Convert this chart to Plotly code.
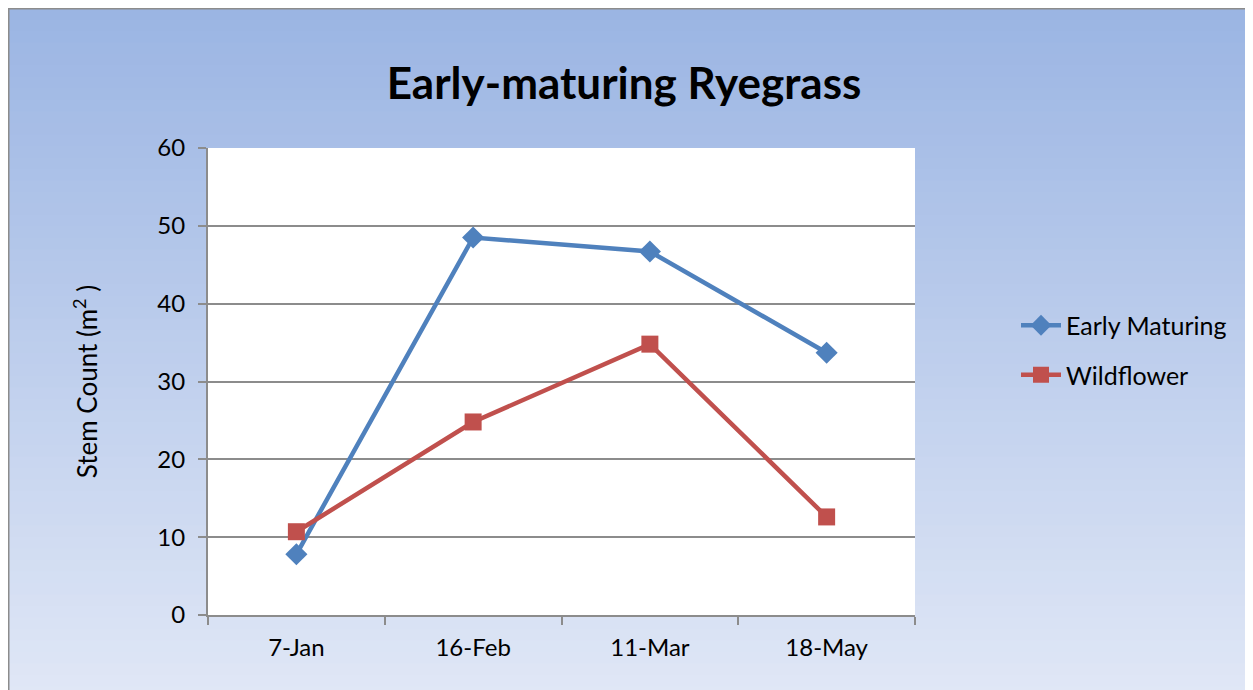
import plotly.graph_objects as go

categories = ["7-Jan", "16-Feb", "11-Mar", "18-May"]
early_maturing = [7.8, 48.5, 46.7, 33.7]
wildflower = [10.7, 24.8, 34.8, 12.6]
y_ticks = [0, 10, 20, 30, 40, 50, 60]

W, H = 1253, 690
L, R, T, B = 200, 346, 140, 83
PW, PH = W - L - R, H - T - B

def px_x(p):
    return (p - L) / PW

def px_y(p):
    return (H - B - p) / PH

FONT = "Lato"

fig = go.Figure()
fig.add_trace(go.Scatter(
    x=categories, y=early_maturing, name="Early Maturing", mode="lines+markers",
    legendgroup="a",
    line=dict(color="#4F81BD", width=4.5),
    marker=dict(symbol="diamond", size=17, color="#4F81BD"),
))
fig.add_trace(go.Scatter(
    x=categories, y=wildflower, name="Wildflower", mode="lines+markers",
    legendgroup="b",
    line=dict(color="#C0504D", width=4.5),
    marker=dict(symbol="square", size=17, color="#C0504D"),
))

shapes = []
n = 60
top = (155, 181, 227)
bot = (224, 231, 246)
for i in range(n):
    t = i / (n - 1)
    c = tuple(round(top[k] + (bot[k] - top[k]) * t) for k in range(3))
    y0 = i * H / n
    y1 = (i + 1) * H / n + 1
    shapes.append(dict(type="rect", xref="paper", yref="paper",
                       x0=px_x(0), x1=px_x(W), y0=px_y(y1), y1=px_y(y0),
                       fillcolor="rgb(%d,%d,%d)" % c, line=dict(width=0), layer="below"))
shapes.append(dict(type="rect", xref="x domain", yref="y domain", x0=0, x1=1, y0=0, y1=1,
                   fillcolor="white", line=dict(width=0), layer="below"))
shapes.append(dict(type="rect", xref="paper", yref="paper",
                   x0=px_x(0.5), x1=px_x(W + 20), y0=px_y(H + 20), y1=px_y(0.5),
                   fillcolor="rgba(0,0,0,0)", line=dict(color="#8c8c8c", width=2), layer="above"))

fig.update_layout(
    width=W, height=H,
    margin=dict(l=L, r=R, t=T, b=B),
    paper_bgcolor="white", plot_bgcolor="white",
    shapes=shapes,
    font=dict(family=FONT, size=24, color="black"),
    title=dict(text="<b>Early-maturing Ryegrass</b>", x=px_x(616), xref="paper", xanchor="center",
               y=1 - 76 / H, yanchor="middle", font=dict(size=44, family=FONT)),
    showlegend=True,
    legend=dict(x=px_x(1008), y=px_y(342), xanchor="left", yanchor="middle",
                bgcolor="rgba(0,0,0,0)", font=dict(size=25), tracegroupgap=14, itemwidth=40),
    xaxis=dict(type="category", categoryorder="array", categoryarray=categories,
               range=[-0.5, 3.5], showgrid=False, showline=True, linecolor="#8c8c8c", linewidth=2,
               ticks="outside", tickson="boundaries", ticklen=8, tickcolor="#8c8c8c", tickwidth=2,
               tickfont=dict(size=24), zeroline=False, ticklabelstandoff=10),
    yaxis=dict(range=[0, 60], tickvals=y_ticks, showgrid=True, gridcolor="#8c8c8c", gridwidth=1.5,
               showline=True, linecolor="#8c8c8c", linewidth=2, ticks="outside", ticklen=8,
               tickcolor="#8c8c8c", tickwidth=2, tickfont=dict(size=24), zeroline=False,
               ticklabelstandoff=8,
               title=dict(text="Stem Count (m<sup>2</sup> )", font=dict(size=26), standoff=52)),
)

fig.write_html("out.html")
